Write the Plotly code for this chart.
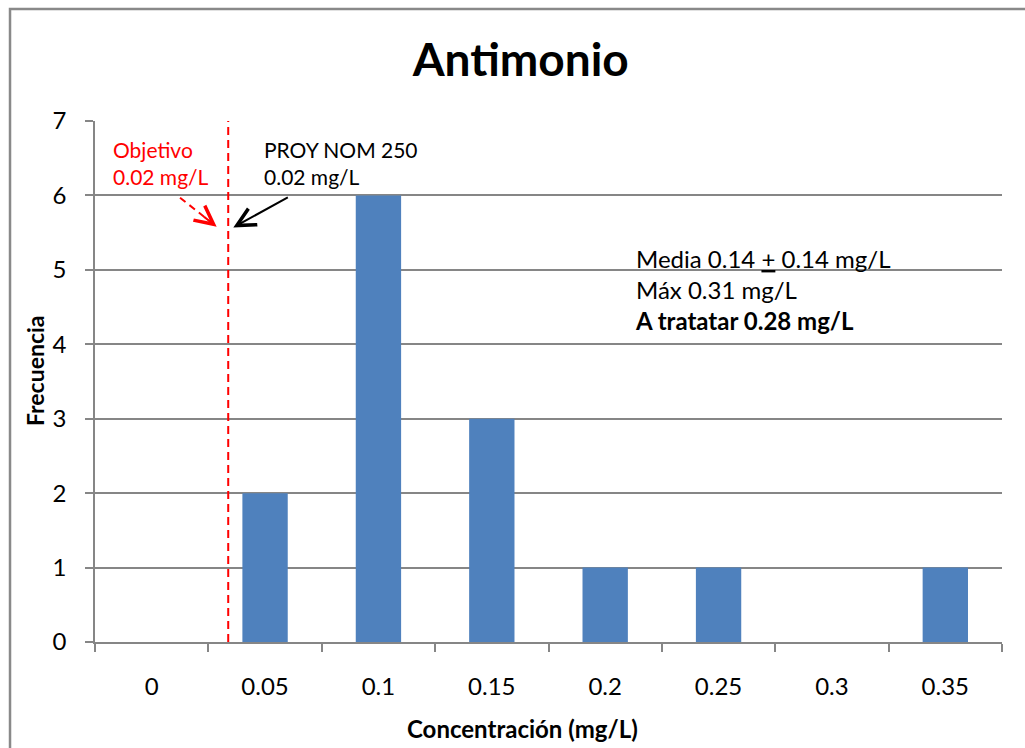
import plotly.graph_objects as go

# Data
categories = ["0", "0.05", "0.1", "0.15", "0.2", "0.25", "0.3", "0.35"]
frequencies = [0, 2, 6, 3, 1, 1, 0, 1]

title_text = "Antimonio"
x_title = "Concentración (mg/L)"
y_title = "Frecuencia"
objetivo_text = "Objetivo<br>0.02 mg/L"
nom_text = "PROY NOM 250<br>0.02 mg/L"
stats_text = "Media 0.14 <u>+</u> 0.14 mg/L<br>Máx 0.31 mg/L<br><b>A tratatar 0.28 mg/L</b>"

FONT = "Lato, Carlito, Calibri, sans-serif"
GRID = "#868686"
BAR = "#4F81BD"
RED = "#FF0000"

# limit line position on the category axis (between 0 and 0.05)
limit_pos = 0.675

fig = go.Figure()
fig.add_trace(go.Bar(x=categories, y=frequencies, marker=dict(color=BAR, line=dict(width=0)),
                     hoverinfo="x+y"))

fig.update_layout(
    width=1025, height=748,
    margin=dict(l=95, r=23, t=121, b=106),
    paper_bgcolor="white", plot_bgcolor="white",
    bargap=0.6,
    showlegend=False,
    font=dict(family=FONT, color="black"),
    title=dict(text="<b>%s</b>" % title_text, x=0.508, xref="container", xanchor="center",
               y=1 - 60 / 748, yref="container", yanchor="middle",
               font=dict(size=46, family=FONT, color="black")),
    xaxis=dict(type="category", range=[-0.5, 7.5], showline=True, linecolor=GRID, linewidth=1.5,
               ticks="outside", ticklen=8, tickcolor=GRID, tickwidth=1.5, tickson="boundaries",
               showgrid=False, tickfont=dict(size=24, family=FONT, color="black"),
               ticklabelstandoff=22),
    yaxis=dict(range=[0, 7], dtick=1, showline=True, linecolor=GRID, linewidth=1.5,
               ticks="outside", ticklen=8, tickcolor=GRID, tickwidth=1.5,
               showgrid=True, gridcolor=GRID, gridwidth=1.5, zeroline=False,
               tickfont=dict(size=24, family=FONT, color="black"), ticklabelstandoff=14),
)

# outer chart frame
fig.add_shape(type="rect", xref="paper", yref="paper", x0=-0.0937, x1=1.2, y0=-0.5, y1=1.215,
              line=dict(color="#898989", width=2.5), fillcolor="rgba(0,0,0,0)", layer="below")

# vertical limit line
fig.add_shape(type="line", xref="x", yref="y", x0=limit_pos, x1=limit_pos, y0=0, y1=7,
              line=dict(color=RED, width=2, dash="8px,5px"))

# red dashed arrow body
fig.add_shape(type="line", xref="x", yref="y", x0=0.25, y0=5.97, x1=0.54, y1=5.62,
              line=dict(color=RED, width=2, dash="7px,5px"))

annotations = [
    dict(text="<b>%s</b>" % y_title, xref="paper", yref="paper", x=(35 - 95) / 907, y=(642 - 370) / 521,
         textangle=-90, showarrow=False, xanchor="center", yanchor="middle",
         font=dict(size=23, family=FONT, color="black")),
    dict(text="<b>%s</b>" % x_title, xref="paper", yref="paper", x=(522 - 95) / 907, y=(642 - 728) / 521,
         showarrow=False, xanchor="center", yanchor="middle",
         font=dict(size=24, family=FONT, color="black")),
    dict(text=objetivo_text, xref="paper", yref="paper", x=(111 - 95) / 907, y=(642 - 162.5) / 521,
         showarrow=False, xanchor="left", yanchor="middle", align="left",
         font=dict(size=21, family=FONT, color=RED)),
    dict(text=nom_text, xref="paper", yref="paper", x=(262 - 95) / 907, y=(642 - 162.5) / 521,
         showarrow=False, xanchor="left", yanchor="middle", align="left",
         font=dict(size=21, family=FONT, color="black")),
    dict(text=stats_text, xref="paper", yref="paper", x=(633 - 95) / 907, y=(642 - 289) / 521,
         showarrow=False, xanchor="left", yanchor="middle", align="left",
         font=dict(size=24, family=FONT, color="black")),
    # red arrow head
    dict(text="", xref="x", yref="y", x=0.573, y=5.58, ax=-14, ay=-11, showarrow=True,
         arrowhead=5, arrowsize=1.8, arrowwidth=2, arrowcolor=RED, standoff=0),
    # black arrow
    dict(text="", xref="x", yref="y", x=0.72, y=5.57, ax=56, ay=-31, showarrow=True,
         arrowhead=5, arrowsize=1.8, arrowwidth=2, arrowcolor="black", standoff=0),
]
fig.update_layout(annotations=annotations)

fig.write_html("out.html")
